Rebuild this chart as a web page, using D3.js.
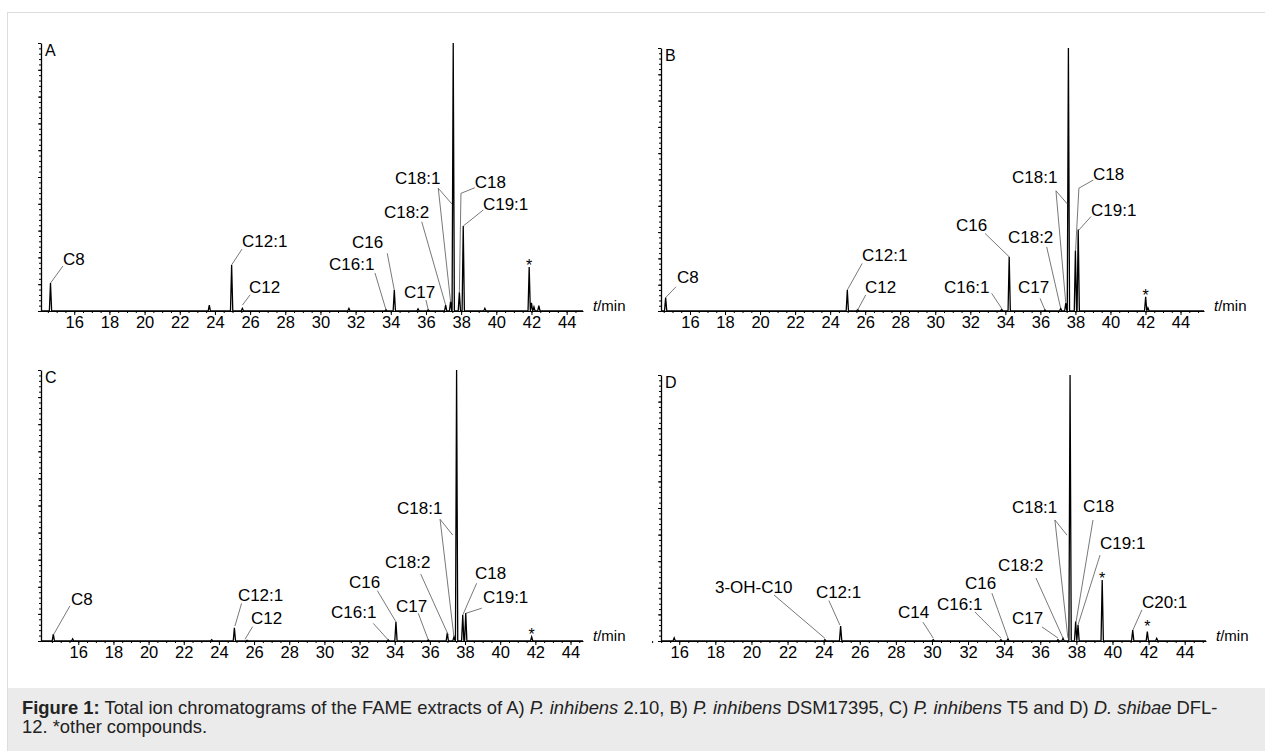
<!DOCTYPE html>
<html>
<head>
<meta charset="utf-8">
<script src="https://cdn.jsdelivr.net/npm/d3@7/dist/d3.min.js"></script>
<style>
  html, body { margin: 0; padding: 0; background: #fff; }
  svg { display: block; font-family: "Liberation Sans", Arial, sans-serif; }
  .tick text { font-family: "Liberation Sans Narrow", "Arial Narrow", "Liberation Sans", sans-serif; }
</style>
</head>
<body>
<div id="chart"></div>
<script>
// peaks: [retention time (min), height in % of the largest peak]
const peaksA = [
  [14.65, 10.4], [23.68, 2.2], [24.95, 17.2], [25.56, 1.0], [31.62, 1.0], [33.73, 0.5],
  [34.2, 7.8], [35.55, 0.8], [36.13, 0.5], [37.12, 2.2], [37.4, 3.5], [37.55, 100],
  [37.9, 7.0], [38.12, 31.7], [39.35, 1.0], [41.87, 16.4], [42.0, 3.0], [42.14, 1.5], [42.42, 2.0]
];
const peaksB = [
  [14.61, 5.1], [24.98, 8.0], [25.57, 0.5], [33.79, 0.6], [34.22, 20.6], [36.26, 0.4],
  [37.16, 1.0], [37.45, 3.0], [37.6, 100], [38.0, 23.0], [38.16, 31.0], [42.01, 5.4], [42.14, 1.2]
];
const peaksC = [
  [14.58, 2.5], [15.68, 0.8], [23.59, 0.5], [24.88, 4.9], [25.6, 0.3], [33.63, 0.4],
  [34.07, 7.1], [35.91, 0.4], [36.99, 3.0], [37.37, 1.5], [37.52, 100], [37.87, 9.6],
  [38.04, 10.3], [41.79, 1.5]
];
const peaksD = [
  [15.72, 1.2], [24.07, 0.5], [24.94, 5.6], [30.07, 0.5], [33.82, 0.5], [34.21, 0.8],
  [36.98, 0.5], [37.26, 1.0], [37.65, 100], [37.96, 7.3], [38.09, 6.0], [39.43, 22.9],
  [41.12, 4.1], [41.93, 3.5], [42.45, 1.0]
];

// peak labels: text start [t, %], leader lines as lists of [t, %]
const labelsA = [
  { text: "C8", at: [15.36, 17.2], lines: [[[15.36, 16.8], [14.65, 10.4]]] },
  { text: "C12:1", at: [25.54, 23.9], lines: [[[25.54, 23.1], [24.95, 17.2]]] },
  { text: "C12", at: [25.94, 6.7], lines: [[[26.0, 6.0], [25.56, 2.2]]] },
  { text: "C16", at: [31.79, 23.5], lines: [[[33.8, 21.5], [34.2, 7.8]]] },
  { text: "C16:1", at: [30.49, 15.3], lines: [[[33.1, 14.2], [33.73, 0.4]]] },
  { text: "C17", at: [34.75, 4.9], lines: [[[36.0, 4.1], [36.13, 0.4]]] },
  { text: "C18:2", at: [33.61, 34.7], lines: [[[35.76, 33.3], [37.12, 2.2]]] },
  { text: "C18:1", at: [34.24, 47.4], lines: [[[36.7, 45.8], [37.48, 39.9]], [[36.7, 45.8], [37.4, 3.5]]] },
  { text: "C18", at: [38.78, 45.9], lines: [[[38.78, 46.0], [37.99, 43.9], [37.9, 7.0]]] },
  { text: "C19:1", at: [39.24, 37.7], lines: [[[39.26, 37.7], [38.12, 31.7]]] },
  { text: "*", at: [41.87, 15.0], lines: [] }
];
const labelsB = [
  { text: "C8", at: [15.26, 10.6], lines: [[[15.2, 9.2], [14.61, 5.1]]] },
  { text: "C12:1", at: [25.82, 19.0], lines: [[[25.83, 18.1], [24.98, 8.0]]] },
  { text: "C12", at: [25.99, 6.8], lines: [[[26.03, 6.1], [25.57, 0.4]]] },
  { text: "C16", at: [31.18, 30.4], lines: [[[32.84, 29.5], [34.22, 20.6]]] },
  { text: "C16:1", at: [30.5, 6.8], lines: [[[33.22, 6.7], [33.79, 1.0]]] },
  { text: "C17", at: [34.72, 6.8], lines: [[[35.98, 4.8], [36.26, 0.4]]] },
  { text: "C18:2", at: [34.15, 26.0], lines: [[[36.36, 24.4], [37.16, 1.0]]] },
  { text: "C18:1", at: [34.38, 48.7], lines: [[[36.89, 45.7], [37.54, 40.7]], [[36.89, 45.7], [37.45, 3.0]]] },
  { text: "C18", at: [39.0, 49.8], lines: [[[39.02, 49.8], [38.2, 46.7], [38.01, 23.0]]] },
  { text: "C19:1", at: [38.89, 36.0], lines: [[[38.89, 35.9], [38.2, 30.8]]] },
  { text: "*", at: [42.01, 3.8], lines: [] }
];
const labelsC = [
  { text: "C8", at: [15.58, 13.3], lines: [[[15.53, 13.0], [14.58, 2.2]]] },
  { text: "C12:1", at: [25.08, 14.8], lines: [[[25.29, 13.9], [24.91, 5.5]]] },
  { text: "C12", at: [25.82, 6.3], lines: [[[25.92, 5.3], [25.48, 0.6]]] },
  { text: "C16", at: [31.4, 19.6], lines: [[[33.01, 18.6], [34.07, 7.1]]] },
  { text: "C16:1", at: [30.38, 8.5], lines: [[[32.78, 6.5], [33.63, 0.4]]] },
  { text: "C17", at: [34.07, 10.7], lines: [[[35.34, 10.2], [35.91, 0.4]]] },
  { text: "C18:2", at: [33.45, 26.9], lines: [[[35.48, 24.7], [37.05, 2.2]]] },
  { text: "C18:1", at: [34.13, 46.9], lines: [[[36.58, 44.9], [37.3, 39.1]], [[36.58, 44.9], [37.37, 1.5]]] },
  { text: "C18", at: [38.57, 22.9], lines: [[[38.66, 21.3], [37.87, 9.6]]] },
  { text: "C19:1", at: [39.02, 14.0], lines: [[[38.95, 12.1], [38.04, 10.2]]] },
  { text: "*", at: [41.79, 0.2], lines: [] }
];
const labelsD = [
  { text: "3-OH-C10", at: [17.98, 18.2], lines: [[[21.25, 17.3], [24.07, 1.0]]] },
  { text: "C12:1", at: [23.57, 16.3], lines: [[[24.29, 15.2], [24.9, 6.0]]] },
  { text: "C14", at: [28.12, 8.7], lines: [[[29.5, 7.1], [30.07, 1.1]]] },
  { text: "C16:1", at: [30.28, 11.8], lines: [[[32.38, 10.9], [33.82, 1.1]]] },
  { text: "C16", at: [31.83, 19.5], lines: [[[33.32, 18.0], [34.21, 1.1]]] },
  { text: "C17", at: [34.43, 6.4], lines: [[[36.09, 5.3], [36.98, 1.1]]] },
  { text: "C18:2", at: [33.66, 26.4], lines: [[[35.76, 23.7], [37.26, 1.1]]] },
  { text: "C18:1", at: [34.43, 48.0], lines: [[[36.81, 45.5], [37.48, 39.8]], [[36.81, 45.5], [37.53, 1.1]]] },
  { text: "C18", at: [38.37, 48.6], lines: [[[38.92, 45.5], [37.98, 7.1]]] },
  { text: "C19:1", at: [39.31, 34.6], lines: [[[39.31, 32.3], [38.09, 6.0]]] },
  { text: "*", at: [39.43, 21.6], lines: [] },
  { text: "C20:1", at: [41.63, 12.4], lines: [[[41.63, 11.7], [41.13, 4.1]]] },
  { text: "*", at: [41.93, 3.2], lines: [] }
];

const xTicks = d3.range(16, 45, 2);

// where each panel sits on the page
const panels = [
  { name: "A", peaks: peaksA, labels: labelsA, domain: [14.11, 44.93], left: 41, right: 583, top: 43, bottom: 311 },
  { name: "B", peaks: peaksB, labels: labelsB, domain: [14.345, 45.34], left: 661, right: 1204, top: 48, bottom: 311 },
  { name: "C", peaks: peaksC, labels: labelsC, domain: [13.88, 44.71], left: 41, right: 583, top: 370, bottom: 641 },
  { name: "D", peaks: peaksD, labels: labelsD, domain: [14.99, 45.18], left: 661, right: 1206, top: 375, bottom: 641 }
];

const width = 1265, height = 751;
const svg = d3.select("#chart").append("svg")
  .attr("width", width)
  .attr("height", height);

// frame and caption band
svg.append("rect")
  .attr("x", 7.5).attr("y", 12.5)
  .attr("width", width).attr("height", height)
  .attr("fill", "#fff").attr("stroke", "#dcdcdc");
svg.append("rect")
  .attr("x", 8).attr("y", 688)
  .attr("width", width - 8).attr("height", height - 688)
  .attr("fill", "#ebebeb");

const halfWidth = 0.065; // half base width of a peak in minutes

panels.forEach(p => {
  const x = d3.scaleLinear().domain(p.domain).range([p.left, p.right]);
  const y = d3.scaleLinear().domain([0, 100]).range([p.bottom, p.top]);
  const g = svg.append("g");

  // x axis: minor then major ticks
  g.append("g")
    .attr("transform", `translate(0,${p.bottom})`)
    .call(d3.axisBottom(x).tickValues(d3.range(14.5, p.domain[1], 0.5)).tickSize(2).tickFormat(""))
    .call(a => a.select(".domain").remove());
  g.append("g")
    .attr("transform", `translate(0,${p.bottom})`)
    .call(d3.axisBottom(x).tickValues(xTicks).tickSize(4).tickPadding(1).tickSizeOuter(0))
    .call(a => a.selectAll("text").attr("font-size", 16.5).attr("fill", "#000"))
    .call(a => a.select(".domain").attr("stroke-width", 1));

  // y axis, ruler style without labels
  g.append("g")
    .attr("transform", `translate(${p.left},0)`)
    .call(d3.axisLeft(y).tickValues(d3.range(0, 101, 2)).tickSize(2).tickFormat("").tickSizeOuter(0))
    .call(a => a.select(".domain").attr("stroke-width", 1.3));
  g.append("g")
    .attr("transform", `translate(${p.left},0)`)
    .call(d3.axisLeft(y).tickValues(d3.range(0, 101, 10)).tickSize(3).tickFormat(""))
    .call(a => a.select(".domain").remove());

  g.append("text")
    .attr("x", p.right + 10).attr("y", p.bottom)
    .attr("font-size", 15)
    .html('<tspan font-style="italic">t</tspan>/min');

  g.append("text")
    .attr("x", p.left + 4).attr("y", p.top + 13)
    .attr("font-size", 16)
    .text(p.name);

  // trace built from the peak list
  const pts = [[p.domain[0], 0]];
  p.peaks.slice().sort((a, b) => a[0] - b[0]).forEach(([t, h]) => {
    pts.push([t - halfWidth, 0], [t, h], [t + halfWidth, 0]);
  });
  pts.push([p.domain[1], 0]);
  g.append("path")
    .datum(pts)
    .attr("fill", "none")
    .attr("stroke", "#000")
    .attr("stroke-width", 1.3)
    .attr("d", d3.line().x(d => x(d[0])).y(d => y(d[1])));

  // leader lines
  const leader = d3.line().x(d => x(d[0])).y(d => y(d[1]));
  p.labels.forEach(l => {
    l.lines.forEach(seg => {
      g.append("path")
        .attr("d", leader(seg))
        .attr("fill", "none")
        .attr("stroke", "#555")
        .attr("stroke-width", 0.8);
    });
  });

  g.selectAll("text.peak")
    .data(p.labels)
    .join("text")
    .attr("class", "peak")
    .attr("x", d => x(d.at[0]))
    .attr("y", d => y(d.at[1]))
    .attr("text-anchor", d => d.text === "*" ? "middle" : "start")
    .attr("font-size", d => d.text === "*" ? 16 : 17)
    .attr("fill", "#000")
    .text(d => d.text);
});

// caption
const cap = svg.append("text")
  .attr("x", 22).attr("y", 714)
  .attr("font-size", 18.4)
  .attr("fill", "#222");
cap.append("tspan").attr("font-weight", "bold").text("Figure 1:");
cap.append("tspan").text(" Total ion chromatograms of the FAME extracts of A) ");
cap.append("tspan").attr("font-style", "italic").text("P. inhibens");
cap.append("tspan").text(" 2.10, B) ");
cap.append("tspan").attr("font-style", "italic").text("P. inhibens");
cap.append("tspan").text(" DSM17395, C) ");
cap.append("tspan").attr("font-style", "italic").text("P. inhibens");
cap.append("tspan").text(" T5 and D) ");
cap.append("tspan").attr("font-style", "italic").text("D. shibae");
cap.append("tspan").text(" DFL-");
svg.append("text")
  .attr("x", 22).attr("y", 733)
  .attr("font-size", 18.4)
  .attr("fill", "#222")
  .text("12. *other compounds.");
</script>
</body>
</html>
